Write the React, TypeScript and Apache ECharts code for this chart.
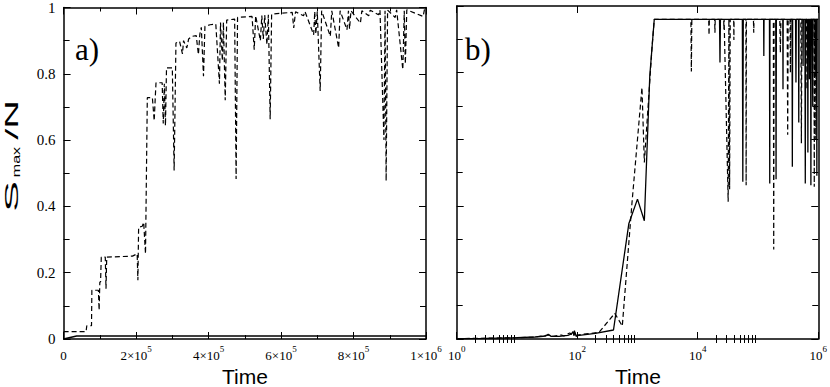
import React, { useEffect, useRef } from "react";
import * as echarts from "echarts";

// ---------- Data ----------
// Panel a) linear time axis
const solidA: [number, number][] = [
  [0, 0.0], [36000, 0.009], [1000000, 0.009],
];

const dashedA: [number, number][] = [
  [0, 0.022], [62000, 0.022], [64000, 0.04], [77000, 0.04], [78000, 0.147],
  [96000, 0.147], [98000, 0.087], [100000, 0.172], [102000, 0.172], [104000, 0.247],
  [115000, 0.247], [117000, 0.152], [119000, 0.247], [190000, 0.25], [203000, 0.257],
  [205000, 0.177], [207000, 0.337], [217000, 0.34], [221000, 0.352], [226000, 0.257],
  [231000, 0.728], [245000, 0.728], [250000, 0.658], [253000, 0.73], [255000, 0.773],
  [272000, 0.773], [275000, 0.65], [278000, 0.77], [281000, 0.643], [284000, 0.818],
  [300000, 0.818], [305000, 0.508], [310000, 0.893], [320000, 0.898], [328000, 0.86],
  [331000, 0.9], [340000, 0.878], [345000, 0.905], [354000, 0.913], [366000, 0.915],
  [372000, 0.858], [376000, 0.92], [380000, 0.94], [386000, 0.793], [390000, 0.943],
  [404000, 0.948], [420000, 0.95], [430000, 0.77], [433000, 0.955], [438000, 0.84],
  [441000, 0.955], [446000, 0.72], [450000, 0.962], [472000, 0.965], [476000, 0.483],
  [480000, 0.97], [520000, 0.973], [526000, 0.873], [530000, 0.975], [543000, 0.9],
  [547000, 0.976], [551000, 0.905], [555000, 0.977], [561000, 0.888], [565000, 0.978],
  [570000, 0.663], [574000, 0.98], [600000, 0.983], [631000, 0.985], [635000, 0.938],
  [640000, 0.987], [662000, 0.975], [666000, 0.988], [690000, 0.918], [693000, 0.988],
  [696000, 0.92], [700000, 0.988], [708000, 0.748], [712000, 0.99], [736000, 0.913],
  [740000, 0.99], [759000, 0.878], [763000, 0.99], [782000, 0.933], [786000, 0.99],
  [789000, 0.935], [793000, 0.99], [819000, 0.953], [823000, 0.99], [842000, 0.975],
  [846000, 0.992], [869000, 0.978], [873000, 0.992], [884000, 0.6], [887000, 0.99],
  [890000, 0.477], [894000, 0.992], [915000, 0.97], [919000, 0.993], [936000, 0.813],
  [940000, 0.99], [943000, 0.83], [947000, 0.993], [992000, 0.973], [996000, 0.995],
  [1000000, 0.995],
];

// Panel b) logarithmic time axis
const solidB: [number, number][] = [
  [1, 0.001], [3, 0.002], [10, 0.004], [20, 0.006], [30, 0.009], [33, 0.014],
  [37, 0.008], [50, 0.008], [70, 0.011], [80, 0.015], [85, 0.022], [88, 0.01],
  [92, 0.02], [96, 0.008], [100, 0.01], [200, 0.017], [400, 0.027], [720, 0.347],
  [1000, 0.42], [1300, 0.355], [1600, 0.79], [1900, 0.96],
  [23000, 0.96], [23400, 0.83], [23800, 0.96], [55000, 0.96], [56000, 0.472],
  [57000, 0.96], [124000, 0.96], [125000, 0.85], [126000, 0.96], [155000, 0.96],
  [156700, 0.467], [158000, 0.96], [197000, 0.96], [199500, 0.48], [202000, 0.96],
  [258000, 0.96], [260000, 0.75], [262000, 0.96], [367000, 0.96], [371500, 0.517],
  [376000, 0.96], [420000, 0.96], [426600, 0.77], [432000, 0.96], [470000, 0.96],
  [475000, 0.65], [480000, 0.96], [555000, 0.96], [560000, 0.82], [565000, 0.96],
  [600000, 0.96], [609500, 0.467], [618000, 0.96], [665000, 0.96], [673000, 0.56],
  [680000, 0.96], [710000, 0.96], [715000, 0.78], [720000, 0.96], [745000, 0.96],
  [755000, 0.462], [765000, 0.96], [800000, 0.96], [810000, 0.7], [820000, 0.96],
  [880000, 0.96], [890000, 0.8], [900000, 0.96], [935000, 0.96], [948000, 0.49],
  [960000, 0.96], [1000000, 0.96],
];

const dashedB: [number, number][] = [
  [1, 0.001], [10, 0.004], [20, 0.006], [33, 0.012], [40, 0.008], [55, 0.012],
  [60, 0.009], [75, 0.018], [85, 0.012], [90, 0.025], [95, 0.01], [100, 0.012],
  [230, 0.02], [420, 0.077], [560, 0.039], [810, 0.408], [1187, 0.755], [1300, 0.53],
  [1750, 0.88], [1900, 0.96],
  [7700, 0.96], [7840, 0.803], [7980, 0.96], [15200, 0.96], [15400, 0.913],
  [15600, 0.96], [19100, 0.96], [19300, 0.92], [19500, 0.96], [27000, 0.96],
  [27200, 0.93], [27400, 0.96], [32000, 0.412], [32900, 0.96], [33800, 0.45],
  [34600, 0.96], [39500, 0.96], [39800, 0.898], [40100, 0.96], [63000, 0.96],
  [63600, 0.462], [64200, 0.96], [84000, 0.96], [85000, 0.92], [86000, 0.96],
  [180000, 0.96], [182400, 0.269], [185000, 0.96], [230000, 0.96], [235000, 0.86],
  [240000, 0.96], [305000, 0.96], [311000, 0.613], [317000, 0.96], [340000, 0.96],
  [345000, 0.8], [350000, 0.96], [515000, 0.96], [524800, 0.588], [535000, 0.96],
  [640000, 0.96], [650000, 0.75], [660000, 0.96], [850000, 0.96], [859000, 0.457],
  [868000, 0.96], [900000, 0.96], [910000, 0.6], [920000, 0.96], [1000000, 0.96],
];

// Tick values and labels
const xTicksA = [0, 200000, 400000, 600000, 800000, 1000000];
const xTickLabelsA = ["{b|0}", "{b|2×10}{s|5}", "{b|4×10}{s|5}", "{b|6×10}{s|5}", "{b|8×10}{s|5}", "{b|1×10}{s|6}"];
const xTicksB = [1, 100, 10000, 1000000];
const xTickLabelsB = ["{b|10}{s|0}", "{b|10}{s|2}", "{b|10}{s|4}", "{b|10}{s|6}"];
const xMinorTicksB = [2, 3, 4, 5, 6, 7, 8, 9, 200, 300, 400, 500, 600, 700, 800, 900,
  20000, 30000, 40000, 50000, 60000, 70000, 80000, 90000];
const yTicks = [0, 0.2, 0.4, 0.6, 0.8, 1];
const yTickLabels = ["0", "0.2", "0.4", "0.6", "0.8", "1"];

const SERIF = "Liberation Serif";
const SANS = "Liberation Sans";

function lookup(values: number[], labels: string[], v: number): string {
  for (let i = 0; i < values.length; i++) {
    if (Math.abs(values[i] - v) <= Math.abs(values[i]) * 1e-6 + 1e-9) return labels[i];
  }
  return "";
}

const tickRich = {
  b: { fontFamily: SERIF, fontSize: 13, color: "#000", lineHeight: 18, verticalAlign: "bottom" },
  s: { fontFamily: SERIF, fontSize: 9, color: "#000", verticalAlign: "top" },
};

export default function App() {
  const ref = useRef<HTMLDivElement>(null);
  useEffect(() => {
    if (!ref.current) return;
    const chart = echarts.init(ref.current, undefined, { renderer: "svg" });
    const axisLine = { show: true, onZero: false, lineStyle: { color: "#000", width: 1.5 } };
    const majorTick = (len: number) => ({ show: true, inside: true, length: len, lineStyle: { color: "#000", width: 1 } });
    const noSplit = { show: false };

    const linX = (pos: "bottom" | "top", grid: number, labels: boolean) => ({
      type: "value", gridIndex: grid, position: pos, min: 0, max: 1000000, interval: 200000,
      axisLine, axisTick: majorTick(7),
      minorTick: { show: true, splitNumber: 2, length: 4, lineStyle: { color: "#000", width: 1 } },
      splitLine: noSplit, minorSplitLine: noSplit,
      axisLabel: labels
        ? { show: true, margin: 5, formatter: (v: number) => lookup(xTicksA, xTickLabelsA, v), rich: tickRich }
        : { show: false },
    });
    const logX = (pos: "bottom" | "top", grid: number, labels: boolean, minor: boolean) => ({
      type: "log", logBase: 10, gridIndex: grid, position: pos, min: 1, max: 1000000,
      axisLine: minor ? { show: false } : axisLine,
      axisTick: { ...majorTick(minor ? 4 : 7), customValues: minor ? xMinorTicksB : xTicksB },
      splitLine: noSplit,
      axisLabel: labels
        ? { show: true, margin: 5, customValues: xTicksB, formatter: (v: number) => lookup(xTicksB, xTickLabelsB, v), rich: tickRich }
        : { show: false },
    });
    const linY = (pos: "left" | "right", grid: number, labels: boolean) => ({
      type: "value", gridIndex: grid, position: pos, min: 0, max: 1, interval: 0.2,
      axisLine, axisTick: majorTick(7),
      minorTick: { show: true, splitNumber: 2, length: 6, lineStyle: { color: "#000", width: 1 } },
      splitLine: noSplit, minorSplitLine: noSplit,
      axisLabel: labels
        ? { show: true, margin: 8, fontFamily: SERIF, fontSize: 15, color: "#000",
            formatter: (v: number) => lookup(yTicks, yTickLabels, v) }
        : { show: false },
    });

    const dashStyle = { color: "#000", width: 1.2, type: [5, 3] as number[] };
    const solidStyle = { color: "#000", width: 1.7, type: "solid" };

    chart.setOption({
      animation: false,
      backgroundColor: "#fff",
      grid: [
        { left: 63.6, top: 6, width: 362.4, height: 333, containLabel: false },
        { left: 456.7, top: 6, width: 362.8, height: 333, containLabel: false },
      ],
      xAxis: [
        linX("bottom", 0, true),
        linX("top", 0, false),
        logX("bottom", 1, true, false),
        logX("bottom", 1, false, true),
        logX("top", 1, false, false),
        logX("top", 1, false, true),
      ],
      yAxis: [
        linY("left", 0, true),
        linY("right", 0, false),
        linY("left", 1, false),
        linY("right", 1, false),
      ],
      series: [
        { type: "line", xAxisIndex: 0, yAxisIndex: 0, data: dashedA, showSymbol: false, lineStyle: dashStyle, clip: true },
        { type: "line", xAxisIndex: 0, yAxisIndex: 0, data: solidA, showSymbol: false, lineStyle: solidStyle, clip: true },
        { type: "line", xAxisIndex: 2, yAxisIndex: 2, data: dashedB, showSymbol: false, lineStyle: dashStyle, clip: true },
        { type: "line", xAxisIndex: 2, yAxisIndex: 2, data: solidB, showSymbol: false, lineStyle: { ...solidStyle, width: 1.3 }, clip: true },
      ],
      graphic: [
        { type: "text", left: 75, top: 34, style: { text: "a)", fontFamily: SERIF, fontSize: 31, fill: "#000" } },
        { type: "text", left: 465, top: 34, style: { text: "b)", fontFamily: SERIF, fontSize: 31, fill: "#000" } },
        { type: "text", x: 245, y: 376, style: { text: "Time", fontFamily: SANS, fontSize: 21, fill: "#000", align: "center", verticalAlign: "middle" } },
        { type: "text", x: 638, y: 376, style: { text: "Time", fontFamily: SANS, fontSize: 21, fill: "#000", align: "center", verticalAlign: "middle" } },
        {
          type: "group", x: 0, y: 157, rotation: Math.PI / 2, scaleX: 1.95, scaleY: 1,
          children: [
            { type: "text", x: -20.2, y: 21, scaleX: 1.3, style: { text: "S", fontFamily: SANS, fontSize: 18.5, fill: "#000", align: "center", verticalAlign: "bottom" } },
            { type: "text", x: -2.6, y: 22.3, scaleX: 0.75, style: { text: "max", fontFamily: SANS, fontSize: 11, fill: "#000", align: "center", verticalAlign: "bottom" } },
            { type: "text", x: 19, y: 21, scaleX: 1.1, style: { text: "/N", fontFamily: SANS, fontSize: 18.5, fill: "#000", align: "center", verticalAlign: "bottom" } },
          ],
        },
      ],
    });
    return () => chart.dispose();
  }, []);
  return <div ref={ref} style={{ position: "fixed", left: 0, top: 0, width: 830, height: 387 }} />;
}
